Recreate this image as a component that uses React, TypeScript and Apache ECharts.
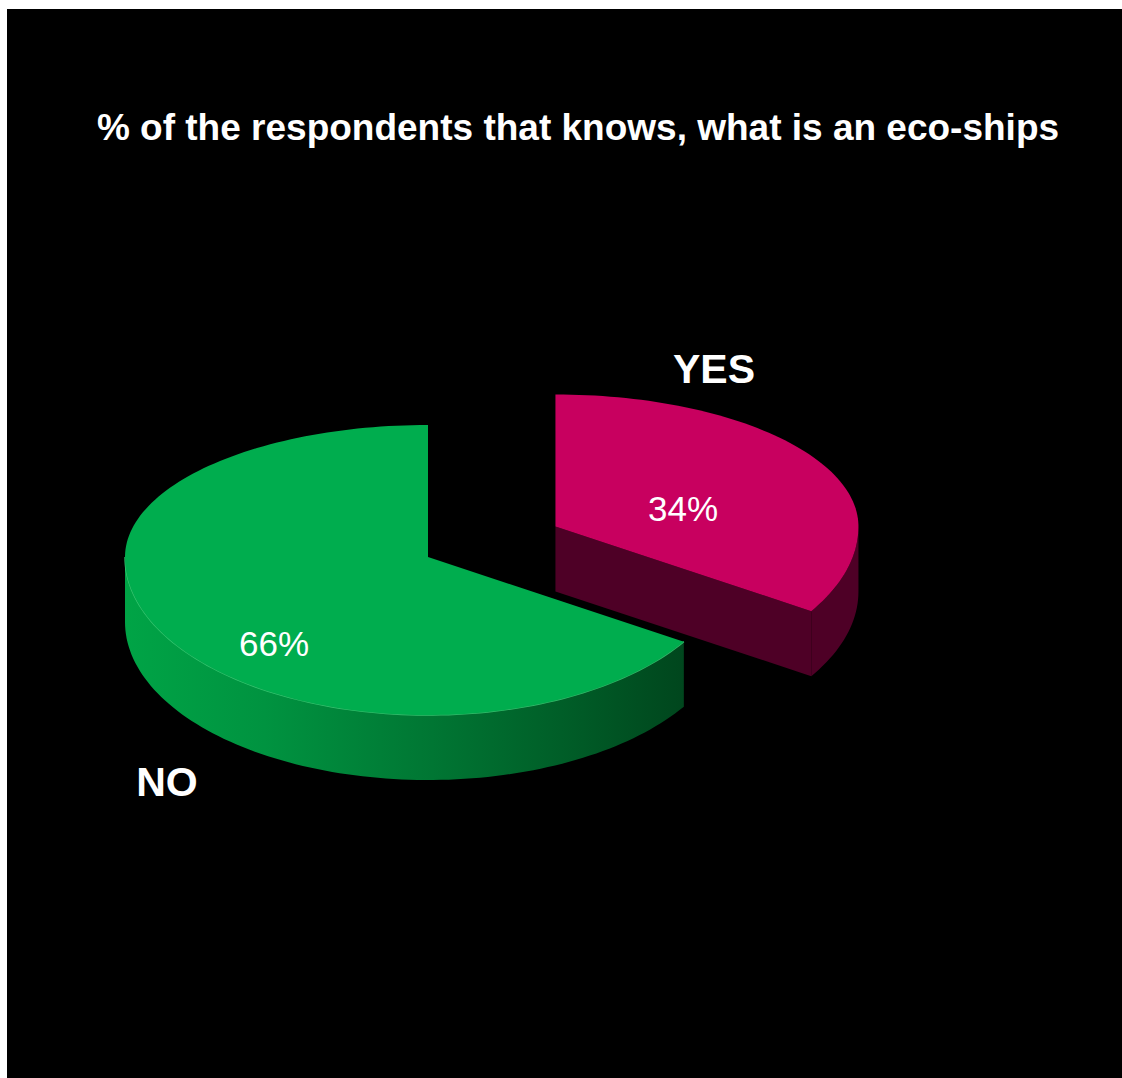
import React, { useEffect, useRef } from "react";
import * as echarts from "echarts";

const categories = ["YES", "NO"];
const values = [34, 66];
const percentLabels = ["34%", "66%"];
const titleText = "% of the respondents that knows, what is an eco-ships";

export default function App() {
  const ref = useRef<HTMLDivElement>(null);

  useEffect(() => {
    document.body.style.margin = "0";
    const chart = echarts.init(ref.current as HTMLDivElement, null, { renderer: "svg" });
    const total = values.reduce((a, b) => a + b, 0);

    const CX = 428;
    const CY = 557;
    const RX = 303;
    const RY_BACK = 132;
    const RY_FRONT = 158;
    const DEPTH = 65;
    const explode = [0.48, 0];
    const topColors = ["#C8005F", "#00AD4E"];
    const rad = (d: number) => (d * Math.PI) / 180;

    const starts: number[] = [];
    let acc = 90;
    values.forEach((v) => {
      starts.push(acc);
      acc -= (v / total) * 360;
    });

    const ept = (ox: number, oy: number, a: number, dy = 0) => {
      const s = Math.sin(rad(a));
      const ry = s > 0 ? RY_BACK : RY_FRONT;
      return [ox + RX * Math.cos(rad(a)), oy - ry * s + dy];
    };

    const arcPts = (ox: number, oy: number, from: number, to: number, dy = 0) => {
      const pts: number[][] = [];
      const n = Math.max(8, Math.ceil(Math.abs(to - from) / 1.5));
      for (let k = 0; k <= n; k++) {
        const a = from + ((to - from) * k) / n;
        pts.push(ept(ox, oy, a, dy));
      }
      return pts;
    };

    const renderItem = (params: any, api: any) => {
      const i = params.dataIndex;
      const v = api.value(0);
      const a0 = starts[i];
      const a1 = a0 - (v / total) * 360;
      const mid = (a0 + a1) / 2;
      const ox = CX + explode[i] * RX * Math.cos(rad(mid));
      const oy = CY - explode[i] * RY_BACK * Math.sin(rad(mid));
      const children: any[] = [];

      const isGreen = i === 1;
      const sideFill = isGreen
        ? {
            type: "linear",
            x: 0,
            y: 0,
            x2: 1,
            y2: 0,
            colorStops: [
              { offset: 0, color: "#00A446" },
              { offset: 0.25, color: "#009340" },
              { offset: 0.55, color: "#007633" },
              { offset: 0.8, color: "#005C27" },
              { offset: 1, color: "#00461D" },
            ],
          }
        : "#4E0026";

      // radial face at clockwise end (visible if its normal points toward viewer)
      const nEnd = a1 - 90;
      if (Math.sin(rad(nEnd)) < -0.01) {
        const e = ept(ox, oy, a1);
        children.push({
          type: "polygon",
          z2: 1,
          shape: { points: [[ox, oy], e, [e[0], e[1] + DEPTH], [ox, oy + DEPTH]] },
          style: { fill: "#4E0026" },
        });
      }
      const nStart = a0 + 90;
      if (Math.sin(rad(nStart)) < -0.01) {
        const e = ept(ox, oy, a0);
        children.push({
          type: "polygon",
          z2: 1,
          shape: { points: [[ox, oy], e, [e[0], e[1] + DEPTH], [ox, oy + DEPTH]] },
          style: { fill: isGreen ? "#005C27" : "#4E0026" },
        });
      }

      // outer wall (front half only)
      for (let k = -2; k <= 1; k++) {
        const lo = Math.max(a1, -180 + 360 * k);
        const hi = Math.min(a0, 360 * k);
        if (hi - lo > 0.01) {
          const top = arcPts(ox, oy, lo, hi);
          const bottom = arcPts(ox, oy, hi, lo, DEPTH);
          children.push({
            type: "polygon",
            z2: 2,
            shape: { points: top.concat(bottom) },
            style: { fill: sideFill },
          });
          if (isGreen) {
            children.push({
              type: "polyline",
              z2: 3,
              shape: { points: top },
              style: { stroke: "#3FD27A", lineWidth: 1.5, fill: null, opacity: 0.8 },
            });
          }
        }
      }

      // top surface
      const topPts = [[ox, oy]].concat(arcPts(ox, oy, a0, a1));
      children.push({
        type: "polygon",
        z2: 10,
        shape: { points: topPts },
        style: { fill: topColors[i] },
      });

      return { type: "group", children };
    };

    const font = "'Liberation Sans', Arial, Helvetica, sans-serif";

    chart.setOption({
      animation: false,
      backgroundColor: "#ffffff",
      graphic: [
        {
          type: "rect",
          z: -10,
          shape: { x: 7, y: 9, width: 1115, height: 1069 },
          style: { fill: "#000000" },
          silent: true,
        },
        {
          type: "text",
          z: 100,
          x: 578,
          y: 127,
          style: {
            text: titleText,
            fill: "#ffffff",
            font: `bold 37px ${font}`,
            textAlign: "center",
            textVerticalAlign: "middle",
          },
        },
        {
          type: "text",
          z: 100,
          x: 714,
          y: 369,
          style: {
            text: categories[0],
            fill: "#ffffff",
            font: `bold 41px ${font}`,
            textAlign: "center",
            textVerticalAlign: "middle",
          },
        },
        {
          type: "text",
          z: 100,
          x: 167,
          y: 782,
          style: {
            text: categories[1],
            fill: "#ffffff",
            font: `bold 41px ${font}`,
            textAlign: "center",
            textVerticalAlign: "middle",
          },
        },
        {
          type: "text",
          z: 100,
          x: 683,
          y: 508,
          style: {
            text: percentLabels[0],
            fill: "#ffffff",
            font: `35px ${font}`,
            textAlign: "center",
            textVerticalAlign: "middle",
          },
        },
        {
          type: "text",
          z: 100,
          x: 274,
          y: 643,
          style: {
            text: percentLabels[1],
            fill: "#ffffff",
            font: `35px ${font}`,
            textAlign: "center",
            textVerticalAlign: "middle",
          },
        },
      ],
      series: [
        {
          type: "custom",
          coordinateSystem: "none",
          renderItem,
          data: values.map((v, i) => ({ name: categories[i], value: v })),
        },
      ],
    });

    return () => {
      chart.dispose();
    };
  }, []);

  return <div ref={ref} style={{ width: 1122, height: 1078 }} />;
}
